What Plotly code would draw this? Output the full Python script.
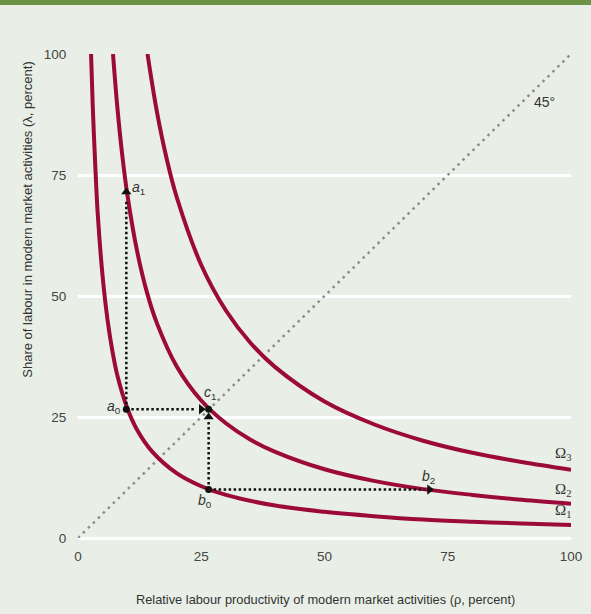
import plotly.graph_objects as go

# Curves (rho, lambda)
om1_x = [2.65, 3, 3.5, 4, 5, 6, 7, 8, 10, 12, 15, 20, 25, 30, 40, 50, 60, 70, 80, 90, 100]
om1_y = [100, 89, 77, 67, 54, 45, 38.5, 33.5, 26.8, 22.3, 17.9, 13.4, 10.7, 8.9, 6.7, 5.4, 4.5, 3.8, 3.35, 3.0, 2.7]
om2_x = [7.1, 8, 9, 10, 12, 14, 16, 20, 25, 30, 35, 40, 50, 60, 70, 80, 90, 100]
om2_y = [100, 88.8, 78.9, 71, 59.2, 50.7, 44.4, 35.5, 28.4, 23.7, 20.3, 17.8, 14.2, 11.8, 10.1, 8.9, 7.9, 7.1]
om3_x = [14.1, 16, 18, 20, 25, 30, 35, 40, 50, 60, 70, 80, 90, 100]
om3_y = [100, 88.1, 78.3, 70.5, 56.4, 47, 40.3, 35.3, 28.2, 23.5, 20.1, 17.6, 15.7, 14.1]
diag_x = [0, 100]
diag_y = [0, 100]

# Key points
a0 = (9.8, 26.6)
a1 = (9.8, 71.5)
c1 = (26.5, 26.6)
b0 = (26.5, 10.0)
b2 = (71.3, 10.0)
head_c1_h = (25.0, 26.6)
head_c1_v = (26.5, 25.0)
deg45_label = (94.7, 90.0)

x_ticks = [0, 25, 50, 75, 100]
y_ticks = [0, 25, 50, 75, 100]

CRIMSON = "#9c0a3a"
BG = "#e9efe6"
FONT = "Liberation Sans, Arial, sans-serif"
SERIF = "Liberation Serif, serif"

fig = go.Figure()

fig.add_trace(go.Scatter(x=diag_x, y=diag_y, mode="lines",
                         line=dict(color="#8c8c8c", width=2.5, dash="2.5px,4.5px"),
                         hoverinfo="skip"))

for xs, ys in [(om1_x, om1_y), (om2_x, om2_y), (om3_x, om3_y)]:
    fig.add_trace(go.Scatter(x=xs, y=ys, mode="lines", line_shape="spline",
                             line=dict(color=CRIMSON, width=4), hoverinfo="skip"))

dot = dict(color="#111111", width=2.5, dash="2.5px,2.5px")
segments = [
    ([a0[0], a1[0]], [a0[1], a1[1] - 1.5]),
    ([a0[0], head_c1_h[0] - 1.0], [a0[1], head_c1_h[1]]),
    ([b0[0], head_c1_v[0]], [b0[1], head_c1_v[1] - 1.0]),
    ([b0[0], b2[0] - 1.0], [b0[1], b2[1]]),
]
for xs, ys in segments:
    fig.add_trace(go.Scatter(x=xs, y=ys, mode="lines", line=dot, hoverinfo="skip"))

# arrowheads
fig.add_trace(go.Scatter(x=[a1[0], head_c1_v[0]], y=[a1[1], head_c1_v[1]], mode="markers",
                         marker=dict(symbol="triangle-up", size=9, color="#111111"),
                         hoverinfo="skip"))
fig.add_trace(go.Scatter(x=[head_c1_h[0], b2[0]], y=[head_c1_h[1], b2[1]], mode="markers",
                         marker=dict(symbol="triangle-right", size=9, color="#111111"),
                         hoverinfo="skip"))
# points
fig.add_trace(go.Scatter(x=[a0[0], c1[0], b0[0]], y=[a0[1], c1[1], b0[1]], mode="markers",
                         marker=dict(symbol="circle", size=7, color="#111111"),
                         hoverinfo="skip"))

ann = []
def lab(x, y, text, xs=0, ys=0, size=14, family=FONT, color="#333333"):
    ann.append(dict(x=x, y=y, xref="x", yref="y", text=text, showarrow=False,
                    xanchor="center", yanchor="middle",
                    xshift=xs, yshift=ys, font=dict(size=size, family=family, color=color)))

lab(a0[0], a0[1], "<i>a</i><sub>0</sub>", xs=-12, ys=2)
lab(a1[0], a1[1], "<i>a</i><sub>1</sub>", xs=12, ys=4)
lab(c1[0], c1[1], "<i>c</i><sub>1</sub>", xs=1, ys=16)
lab(b0[0], b0[1], "<i>b</i><sub>0</sub>", xs=-4, ys=-11)
lab(b2[0], b2[1], "<i>b</i><sub>2</sub>", xs=-1, ys=13)
lab(100, om3_y[-1], "Ω<sub>3</sub>", xs=-8, ys=16, size=15, family=SERIF)
lab(100, om2_y[-1], "Ω<sub>2</sub>", xs=-8, ys=14, size=15, family=SERIF)
lab(100, om1_y[-1], "Ω<sub>1</sub>", xs=-8, ys=14, size=15, family=SERIF)
lab(deg45_label[0], deg45_label[1], "45°", size=14)

ann.append(dict(x=-0.104, y=0.657, xref="paper", yref="paper", textangle=-90,
                xanchor="center", yanchor="middle",
                text="Share of labour in modern market activities (λ, percent)",
                showarrow=False, font=dict(size=13, family=FONT, color="#333333")))
ann.append(dict(x=0.503, y=-0.127, xref="paper", yref="paper",
                xanchor="center", yanchor="middle",
                text="Relative labour productivity of modern market activities (ρ, percent)",
                showarrow=False, font=dict(size=12.8, family=FONT, color="#333333")))

fig.update_layout(
    width=591, height=614,
    margin=dict(l=78, r=20, t=54, b=76, autoexpand=False),
    paper_bgcolor=BG, plot_bgcolor=BG,
    showlegend=False,
    annotations=ann,
    shapes=[dict(type="rect", xref="paper", yref="paper", x0=-0.3, x1=1.3,
                 y0=1.1011, y1=1.2, fillcolor="#6b9245", line=dict(width=0), layer="above")],
    font=dict(family=FONT, size=13, color="#444444"),
)
fig.update_xaxes(range=[0, 100], tickvals=x_ticks, showgrid=False, zeroline=False,
                 showline=False, ticks="outside", ticklen=6, tickcolor=BG,
                 tickfont=dict(size=13.5, family=FONT, color="#444444"), fixedrange=True)
fig.update_yaxes(range=[0, 100], tickvals=y_ticks, showgrid=True, gridcolor="white",
                 gridwidth=2.5, zeroline=True, zerolinecolor="white", zerolinewidth=2.5,
                 showline=False, ticks="outside", ticklen=8, tickcolor=BG,
                 tickfont=dict(size=13.5, family=FONT, color="#444444"), fixedrange=True)

fig.write_html("out.html", config={"displayModeBar": False},
               post_script="document.body.style.margin='0';")
